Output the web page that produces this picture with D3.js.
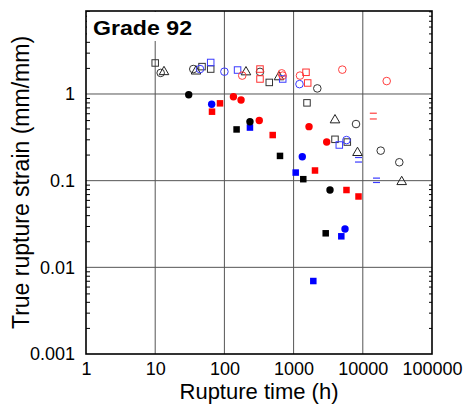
<!DOCTYPE html>
<html>
<head>
<meta charset="utf-8">
<script src="https://cdn.jsdelivr.net/npm/d3@7"></script>
<style>
  html, body { margin: 0; padding: 0; background: #fff; }
  svg { display: block; font-family: "Liberation Sans", Arial, sans-serif; }
</style>
</head>
<body>
<svg id="chart" width="465" height="408"></svg>
<script>
// ---- data (rupture time h, true rupture strain mm/mm) ----
const xTicks = [1, 10, 100, 1000, 10000, 100000];
const xTickLabels = ['1', '10', '100', '1000', '10000', '100000'];
const yTicks = [0.001, 0.01, 0.1, 1];
const yTickLabels = ['0.001', '0.01', '0.1', '1'];

const blackOpenSquare = [[10, 2.28], [47.5, 2.07], [63.4, 1.94], [445, 1.36], [1562, 0.79], [3965, 0.30], [5970, 0.279]];
const blackOpenCircle = [[12, 1.75], [35.5, 1.94], [327, 1.8], [2201, 1.16], [7980, 0.45], [18150, 0.222], [33680, 0.163]];
const blackOpenTriangle = [[13.4, 1.8], [38.9, 1.83], [205, 1.79], [615, 1.57], [3965, 0.5], [8380, 0.21], [36480, 0.097]];
const blueOpenSquare = [[63.4, 2.31], [155, 1.89], [696, 1.49], [4575, 0.258]];
const blueOpenCircle = [[44.4, 1.94], [100, 1.81], [1217, 1.3], [5810, 0.294]];
const redOpenCircle = [[181, 1.63], [673, 1.73], [696, 1.63], [1237, 1.63], [5057, 1.91], [22150, 1.41]];
const redOpenSquare = [[327, 1.94], [327, 1.49], [1511, 1.78], [1598, 1.34]];
const redDash = [[14190, 0.60], [14190, 0.515]];
const blueDash = [[8670, 0.185], [8670, 0.164], [15780, 0.107], [15780, 0.0953]];

const blackFilledCircle = [[30.5, 0.98], [234, 0.479], [3357, 0.078]];
const blackFilledSquare = [[150, 0.39], [636, 0.193], [1380, 0.104], [2910, 0.0247]];
const blueFilledCircle = [[65.5, 0.76], [1336, 0.189], [5533, 0.0277]];
const blueFilledSquare = [[234, 0.41], [1072, 0.124], [4891, 0.0228], [1927, 0.00695]];
const redFilledCircle = [[135, 0.93], [174, 0.853], [319, 0.495], [1670, 0.42], [3008, 0.279]];
const redFilledSquare = [[86.4, 0.78], [66.2, 0.625], [499, 0.336], [2038, 0.131], [5810, 0.078], [8670, 0.0657]];

// ---- layout ----
const svg = d3.select('#chart');
const m = {left: 86, top: 11, right: 33, bottom: 54};
const W = 465 - m.left - m.right;
const H = 408 - m.top - m.bottom;

const x = d3.scaleLog().domain([1, 100000]).range([m.left, m.left + W]);
const y = d3.scaleLog().domain([0.001, 9.07]).range([m.top + H, m.top]);

// grid
const grid = svg.append('g');
grid.selectAll('line.gx').data(xTicks.slice(1, -1)).join('line')
  .attr('class', 'gx')
  .attr('x1', d => x(d)).attr('x2', d => x(d))
  .attr('y1', m.top).attr('y2', m.top + H)
  .attr('stroke', '#555').attr('stroke-width', 1);
grid.selectAll('line.gy').data(yTicks.slice(1)).join('line')
  .attr('class', 'gy')
  .attr('x1', m.left).attr('x2', m.left + W)
  .attr('y1', d => y(d)).attr('y2', d => y(d))
  .attr('stroke', '#555').attr('stroke-width', 1);

// minor ticks (inside, left and right)
const minors = [];
for (const dec of [0.001, 0.01, 0.1, 1]) {
  for (let k = 2; k <= 9; k++) if (dec * k <= 9.07) minors.push(dec * k);
}
svg.append('g').attr('transform', `translate(${m.left},0)`)
  .call(d3.axisLeft(y).tickValues(minors).tickSize(-4).tickFormat(''))
  .call(g => g.select('.domain').remove())
  .selectAll('line').attr('stroke', '#000');
svg.append('g').attr('transform', `translate(${m.left + W},0)`)
  .call(d3.axisRight(y).tickValues(minors).tickSize(-3).tickFormat(''))
  .call(g => g.select('.domain').remove())
  .selectAll('line').attr('stroke', '#000');

// title box
svg.append('rect').attr('x', m.left + 1).attr('y', m.top + 1).attr('width', 112).attr('height', 29).attr('fill', '#fff');
svg.append('text').attr('x', 93).attr('y', 35)
  .attr('font-size', 20).attr('font-weight', 'bold')
  .attr('textLength', 99).attr('lengthAdjust', 'spacingAndGlyphs')
  .text('Grade 92');

// frame
svg.append('rect').attr('x', m.left).attr('y', m.top).attr('width', W).attr('height', H)
  .attr('fill', 'none').attr('stroke', '#000').attr('stroke-width', 1.6);

// tick labels
svg.append('g').attr('transform', `translate(0,${m.top + H})`)
  .call(d3.axisBottom(x).tickValues(xTicks).tickFormat((d, i) => xTickLabels[i]).tickSize(0).tickPadding(8))
  .call(g => g.select('.domain').remove())
  .selectAll('text').attr('font-size', 18).attr('fill', '#000').attr('font-family', '"Liberation Sans", Arial, sans-serif');
svg.append('g').attr('transform', `translate(${m.left},0)`)
  .call(d3.axisLeft(y).tickValues(yTicks).tickFormat((d, i) => yTickLabels[i]).tickSize(0).tickPadding(11))
  .call(g => g.select('.domain').remove())
  .selectAll('text').attr('font-size', 18).attr('fill', '#000').attr('font-family', '"Liberation Sans", Arial, sans-serif');

// axis titles
svg.append('text').attr('x', x(Math.sqrt(1e5))).attr('y', 399)
  .attr('text-anchor', 'middle').attr('font-size', 22).text('Rupture time (h)');
svg.append('text').attr('transform', `translate(28.5,${m.top + H / 2}) rotate(-90)`)
  .attr('text-anchor', 'middle').attr('font-size', 23).text('True rupture strain (mm/mm)');

// ---- markers ----
const plot = svg.append('g');

function squares(data, color, filled, s) {
  plot.append('g').selectAll('rect').data(data).join('rect')
    .attr('x', d => x(d[0]) - s / 2).attr('y', d => y(d[1]) - s / 2)
    .attr('width', s).attr('height', s)
    .attr('fill', filled ? color : 'none')
    .attr('stroke', filled ? 'none' : color).attr('stroke-width', 1);
}
function circles(data, color, filled, r) {
  plot.append('g').selectAll('circle').data(data).join('circle')
    .attr('cx', d => x(d[0])).attr('cy', d => y(d[1])).attr('r', r)
    .attr('fill', filled ? color : 'none')
    .attr('stroke', filled ? 'none' : color).attr('stroke-width', 1);
}
function triangles(data, color, s) {
  const sym = d3.symbol().type(d3.symbolTriangle).size(s);
  plot.append('g').selectAll('path').data(data).join('path')
    .attr('transform', d => `translate(${x(d[0])},${y(d[1])})`)
    .attr('d', sym)
    .attr('fill', 'none').attr('stroke', color).attr('stroke-width', 1);
}
function dashes(data, color) {
  plot.append('g').selectAll('line').data(data).join('line')
    .attr('x1', d => x(d[0]) - 3.5).attr('x2', d => x(d[0]) + 3.5)
    .attr('y1', d => y(d[1])).attr('y2', d => y(d[1]))
    .attr('stroke', color).attr('stroke-width', 1.2);
}

squares(blackOpenSquare, '#333', false, 6.5);
circles(blackOpenCircle, '#333', false, 3.8);
triangles(blackOpenTriangle, '#222', 40);
squares(blueOpenSquare, '#3a3aff', false, 6.5);
circles(blueOpenCircle, '#3a3aff', false, 3.8);
circles(redOpenCircle, '#ff4040', false, 3.8);
squares(redOpenSquare, '#ff3030', false, 6.5);
dashes(redDash, '#ff4040');
dashes(blueDash, '#3a3aff');

squares(blackFilledSquare, '#000', true, 6.5);
squares(blueFilledSquare, '#0000ff', true, 6.5);
squares(redFilledSquare, '#ff0000', true, 6.5);
circles(blackFilledCircle, '#000', true, 3.7);
circles(blueFilledCircle, '#0000ff', true, 3.7);
circles(redFilledCircle, '#ff0000', true, 3.7);
</script>
</body>
</html>
